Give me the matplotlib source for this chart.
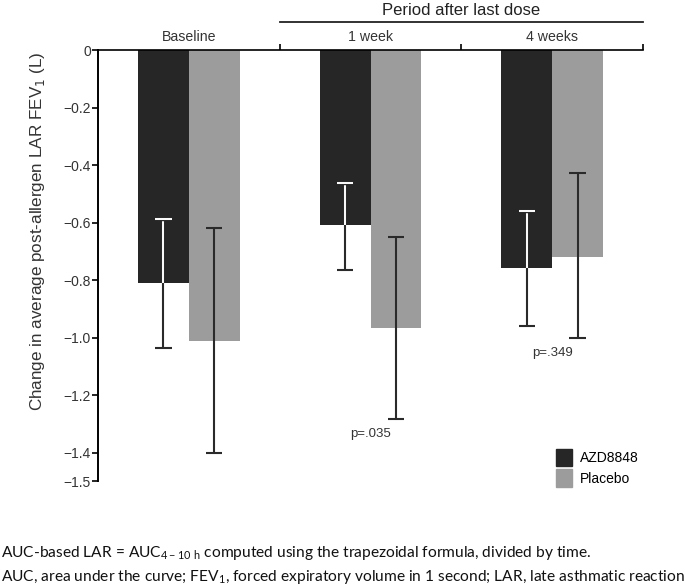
import matplotlib.pyplot as plt
import matplotlib.patheffects as pe
from matplotlib.patches import Patch
import numpy as np

groups = ['Baseline', '1 week', '4 weeks']
azd_mean = [-0.811, -0.608, -0.757]
azd_upper = [-0.587, -0.463, -0.559]
azd_lower = [-1.035, -0.765, -0.959]
pla_mean = [-1.010, -0.965, -0.718]
pla_upper = [-0.620, -0.650, -0.429]
pla_lower = [-1.402, -1.284, -1.002]
p_labels = [None, 'p=.035', 'p=.349']
yticks = [0, -0.2, -0.4, -0.6, -0.8, -1.0, -1.2, -1.4, -1.5]

dark = '#262626'
grey = '#9c9c9c'
line_col = '#2a2a2a'

plt.rcParams['font.family'] = ['Liberation Sans', 'DejaVu Sans']

fig = plt.figure(figsize=(6.85, 5.88), dpi=100)
ax = fig.add_axes([98 / 685, 1 - 481.5 / 588, 545 / 685, (481.5 - 50) / 588])

x = np.arange(len(groups))
w = 0.28
ax.bar(x - w / 2, azd_mean, w, color=dark, zorder=2)
ax.bar(x + w / 2, pla_mean, w, color=grey, zorder=2)

cap = 0.045
white_fx = [pe.Stroke(linewidth=3.2, foreground=line_col), pe.Normal()]
for i in range(len(groups)):
    xa = x[i] - w / 2
    # upper half inside the dark bar: white line with dark outline
    ax.vlines(xa, azd_mean[i], azd_upper[i], color='white', lw=1.4, zorder=4,
              path_effects=white_fx)
    ax.hlines(azd_upper[i], xa - cap, xa + cap, color='white', lw=1.4, zorder=4,
              path_effects=white_fx)
    ax.vlines(xa, azd_lower[i], azd_mean[i], color=line_col, lw=1.5, zorder=3)
    ax.hlines(azd_lower[i], xa - cap, xa + cap, color=line_col, lw=1.5, zorder=3)
    xp = x[i] + w / 2
    ax.vlines(xp, pla_lower[i], pla_upper[i], color=line_col, lw=1.5, zorder=3)
    ax.hlines([pla_lower[i], pla_upper[i]], xp - cap, xp + cap, color=line_col,
              lw=1.5, zorder=3)
    if p_labels[i]:
        low = min(azd_lower[i], pla_lower[i])
        ax.text(x[i], low - 0.03, p_labels[i], ha='center', va='top',
                fontsize=9.5, color='#333333')

ax.set_xlim(-0.5, 2.5)
ax.set_ylim(-1.5, 0)
ax.set_yticks(yticks)
ax.set_yticklabels(['0' if t == 0 else f'\u2212{abs(t):.1f}' for t in yticks],
                   fontsize=10, color='#333333')
ax.tick_params(axis='y', length=4, width=1.2, pad=1)
ax.spines['bottom'].set_visible(False)
ax.spines['right'].set_visible(False)
ax.spines['top'].set_position(('data', 0))
ax.spines['top'].set_linewidth(1.2)
ax.spines['left'].set_linewidth(1.4)
ax.xaxis.set_ticks_position('top')
ax.set_xticks([0.5, 1.5, 2.5])
ax.set_xticklabels([])
ax.tick_params(axis='x', direction='out', length=4, width=1.2)

for i, g in enumerate(groups):
    ax.text(x[i], 0.022, g, ha='center', va='bottom', fontsize=10.2, color='#333333')

# bracket over the follow-up periods
ax.plot([0.5, 2.5], [0.098, 0.098], color='#222222', lw=1.3, clip_on=False)
ax.text(1.5, 0.112, 'Period after last dose', ha='center', va='bottom',
        fontsize=12, color='#222222')

ax.set_ylabel('Change in average post-allergen LAR FEV$_1$ (L)', fontsize=12.3,
              color='#333333', labelpad=4)
ax.yaxis.set_label_coords(-0.093, 0.58)

handles = [Patch(color=dark, label='AZD8848'), Patch(color=grey, label='Placebo')]
fig.legend(handles=handles, loc='upper left', bbox_to_anchor=(543 / 685, 1 - 436 / 588),
           frameon=False, fontsize=10, handlelength=1.2, handleheight=1.6,
           handletextpad=0.55, labelspacing=0.2)

foot = ['Lato', 'DejaVu Sans']
fig.text(1 / 685, 1 - 553 / 588,
         'AUC-based LAR = AUC$_{\\mathregular{4-10\\ h}}$ computed using the trapezoidal formula, divided by time.',
         fontsize=11.2, family=foot, va='center', ha='left', color='#111111')
fig.text(1 / 685, 1 - 577 / 588,
         'AUC, area under the curve; FEV$_{\\mathregular{1}}$, forced expiratory volume in 1 second; LAR, late asthmatic reaction',
         fontsize=11.2, family=foot, va='center', ha='left', color='#111111')

fig.savefig('out.png', dpi=100)
